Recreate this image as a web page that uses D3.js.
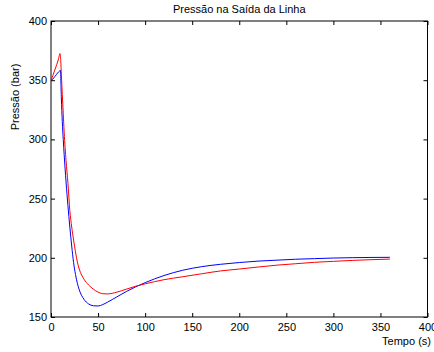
<!DOCTYPE html>
<html>
<head>
<meta charset="utf-8">
<script src="https://cdn.jsdelivr.net/npm/d3@7"></script>
<style>
  html, body { margin: 0; padding: 0; background: #fff; }
  svg { display: block; }
  text { font-family: "Liberation Sans", Arial, Helvetica, sans-serif; font-size: 11px; fill: #000; }
</style>
</head>
<body>
<svg id="chart" width="434" height="352"></svg>
<script>
// Simulation time (s)
const tempo = [0, 2, 4, 6, 8, 9.5, 10, 11, 12, 13, 14, 16, 18, 20, 22, 24, 26, 28, 30,
  35, 40, 45, 50, 55, 60, 70, 80, 90, 100, 120, 140, 160, 180, 200, 220, 240,
  260, 280, 300, 320, 340, 360];

// Outlet pressure (bar), blue series
const pressaoAzul = [350, 351, 353, 355, 357, 358, 358.5, 335, 315, 300, 287, 264, 244, 226, 210,
  196, 186, 178.5, 173, 165, 161, 159.5, 159.3, 160.5, 162.5, 167, 171.5, 175.5, 179,
  185, 189.5, 192.5, 194.5, 196, 197.2, 198, 198.8, 199.3, 199.8, 200.1, 200.3, 200.4];

// Outlet pressure (bar), red series
const pressaoVermelha = [350, 354, 358.5, 363, 368, 372.5, 371, 355, 338, 322, 306, 282, 263, 240,
  226, 215, 205, 196.5, 190.5, 182, 177, 173.5, 171, 169.7, 169.5, 171, 173.5, 176, 178,
  181.5, 184, 186.5, 188.9, 190.5, 192.2, 193.8, 195, 196.2, 197, 197.8, 198.4, 198.9];

const xTicks = [0, 50, 100, 150, 200, 250, 300, 350, 400];
const yTicks = [150, 200, 250, 300, 350, 400];

const titulo = "Pressão na Saída da Linha";
const rotuloX = "Tempo (s)";
const rotuloY = "Pressão (bar)";

const svg = d3.select("#chart");
const plotL = 51, plotR = 427.5, plotT = 21, plotB = 317;

const x = d3.scaleLinear().domain([0, 400]).range([plotL, plotR]);
const y = d3.scaleLinear().domain([150, 400]).range([plotB, plotT]);

// Inward ticks on all four sides, labels only bottom/left
const tick = 4;
function styleAxis(g) {
  g.select(".domain").remove();
  g.selectAll(".tick line").attr("stroke", "#000");
  g.selectAll("text").attr("font-size", null).attr("font-family", null);
}

svg.append("g").attr("transform", `translate(0,${plotB})`)
  .call(d3.axisBottom(x).tickValues(xTicks).tickSize(-tick).tickPadding(6).tickFormat(d3.format("d")))
  .call(styleAxis);
svg.append("g").attr("transform", `translate(0,${plotT})`)
  .call(d3.axisTop(x).tickValues(xTicks).tickSize(-tick).tickFormat(""))
  .call(styleAxis);
svg.append("g").attr("transform", `translate(${plotL},0)`)
  .call(d3.axisLeft(y).tickValues(yTicks).tickSize(-tick).tickPadding(4).tickFormat(d3.format("d")))
  .call(styleAxis);
svg.append("g").attr("transform", `translate(${plotR},0)`)
  .call(d3.axisRight(y).tickValues(yTicks).tickSize(-tick).tickFormat(""))
  .call(styleAxis);

// Axes box
svg.append("rect")
  .attr("x", plotL).attr("y", plotT)
  .attr("width", plotR - plotL).attr("height", plotB - plotT)
  .attr("fill", "none").attr("stroke", "#000").attr("stroke-width", 1);

const line = d3.line()
  .x((d, i) => x(tempo[i]))
  .y(d => y(d))
  .curve(d3.curveMonotoneX);

svg.append("path").datum(pressaoAzul)
  .attr("d", line).attr("fill", "none").attr("stroke", "#0000ff").attr("stroke-width", 1);
svg.append("path").datum(pressaoVermelha)
  .attr("d", line).attr("fill", "none").attr("stroke", "#ff0000").attr("stroke-width", 1);

svg.append("text").attr("x", (plotL + plotR) / 2).attr("y", 13)
  .attr("text-anchor", "middle").text(titulo);
svg.append("text").attr("x", 431).attr("y", 345)
  .attr("text-anchor", "end").text(rotuloX);
svg.append("text").attr("transform", "translate(19,97) rotate(-90)")
  .attr("text-anchor", "middle").text(rotuloY);
</script>
</body>
</html>
